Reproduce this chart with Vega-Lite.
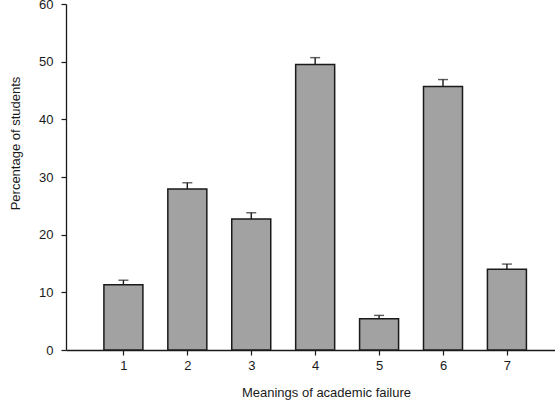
{
  "$schema": "https://vega.github.io/schema/vega-lite/v6.json",
  "width": 489,
  "height": 346,
  "autosize": "none",
  "padding": {"left": 66, "top": 4, "right": 0, "bottom": 52},
  "background": "white",
  "config": {
    "view": {"stroke": null},
    "font": "Liberation Sans",
    "axis": {
      "grid": false,
      "domainColor": "#1a1a1a",
      "domainWidth": 1.3,
      "tickColor": "#1a1a1a",
      "tickWidth": 1.2,
      "tickSize": 5,
      "labelFont": "Liberation Sans",
      "labelFontSize": 13,
      "labelColor": "#1a1a1a",
      "titleFont": "Liberation Sans",
      "titleFontSize": 13,
      "titleFontWeight": "normal",
      "titleColor": "#1a1a1a"
    }
  },
  "data": {
    "values": [
      {"meaning": 1, "pct": 11.3, "upper": 12.1},
      {"meaning": 2, "pct": 27.9, "upper": 29.0},
      {"meaning": 3, "pct": 22.7, "upper": 23.8},
      {"meaning": 4, "pct": 49.5, "upper": 50.7},
      {"meaning": 5, "pct": 5.4, "upper": 6.0},
      {"meaning": 6, "pct": 45.7, "upper": 46.9},
      {"meaning": 7, "pct": 14.0, "upper": 14.9}
    ]
  },
  "encoding": {
    "x": {
      "field": "meaning",
      "type": "quantitative",
      "scale": {"domain": [0.18, 7.674], "nice": false, "zero": false},
      "axis": {
        "title": "Meanings of academic failure",
        "values": [1, 2, 3, 4, 5, 6, 7],
        "format": "d",
        "labelPadding": 4,
        "titlePadding": 14,
        "titleX": 260,
        "titleAnchor": "middle"
      }
    }
  },
  "layer": [
    {
      "mark": {"type": "rule", "color": "#1a1a1a", "strokeWidth": 1.4},
      "encoding": {
        "y": {"field": "pct", "type": "quantitative"},
        "y2": {"field": "upper"}
      }
    },
    {
      "mark": {"type": "tick", "orient": "horizontal", "size": 10, "thickness": 1.4, "color": "#1a1a1a"},
      "encoding": {
        "y": {"field": "upper", "type": "quantitative"}
      }
    },
    {
      "mark": {"type": "bar", "size": 39, "fill": "#a2a2a2", "stroke": "#1a1a1a", "strokeWidth": 1.5},
      "encoding": {
        "y": {
          "field": "pct",
          "type": "quantitative",
          "scale": {"domain": [0, 60], "nice": false},
          "axis": {
            "title": "Percentage of students",
            "values": [0, 10, 20, 30, 40, 50, 60],
            "labelPadding": 8,
            "titlePadding": 16,
            "titleY": 139,
            "titleAnchor": "middle"
          }
        }
      }
    }
  ]
}
